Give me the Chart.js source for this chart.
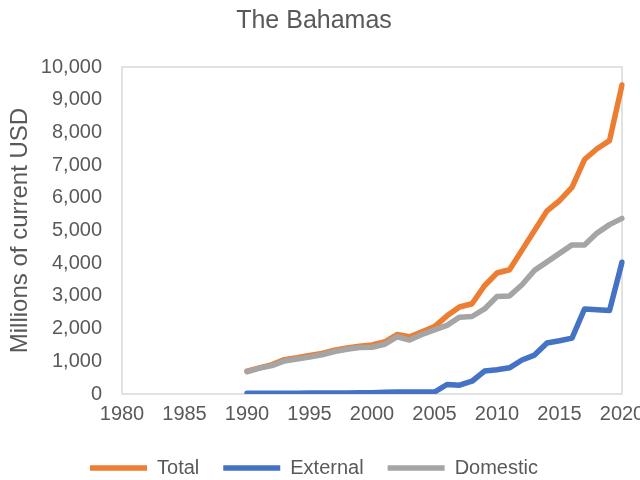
<!DOCTYPE html>
<html>
<head>
<meta charset="utf-8">
<script src="https://cdn.jsdelivr.net/npm/chart.js@4"></script>
<style>
    body { margin: 0; background: #ffffff; }
    #wrap { width: 640px; height: 480px; }
</style>
</head>
<body>
<div id="wrap"><canvas id="lineChart" width="640" height="480"></canvas></div>
<script>

// ======================================
// Data
// ======================================

const years = [];
for (let y = 1980; y <= 2020; y++) years.push(String(y));

const blank = [null, null, null, null, null, null, null, null, null, null];

const totalValues = blank.concat([
    700, 800, 900, 1050, 1110, 1180, 1240, 1340, 1410, 1460,
    1500, 1590, 1820, 1750, 1900, 2060, 2390, 2660, 2760, 3310,
    3700, 3800, 4400, 5000, 5600, 5910, 6320, 7170, 7500, 7750,
    9450
]);

const externalValues = blank.concat([
    20, 20, 20, 25, 25, 30, 30, 30, 30, 35,
    40, 50, 60, 60, 60, 60, 290, 270, 390, 700,
    740, 800, 1040, 1190, 1560, 1630, 1710, 2600, 2580, 2550,
    4030
]);

const domesticValues = blank.concat([
    680, 790, 870, 1010, 1070, 1130, 1200, 1300, 1370, 1420,
    1430, 1520, 1750, 1650, 1820, 1960, 2100, 2350, 2370, 2600,
    2980, 3000, 3340, 3780, 4040, 4300, 4560, 4560, 4920, 5180,
    5370
]);

const TEXT = "#595959";
const FONT = "'Liberation Sans', Arial, sans-serif";

// plot frame on all four sides
const frame = {
    id: "frame",
    beforeDatasetsDraw(chart) {
        const a = chart.chartArea;
        const ctx = chart.ctx;
        ctx.save();
        ctx.strokeStyle = "#d9d9d9";
        ctx.lineWidth = 1.5;
        ctx.strokeRect(a.left, a.top, a.right - a.left, a.bottom - a.top);
        ctx.restore();
    }
};

function series(label, values, color, order) {
    return {
        label: label,
        data: values,
        borderColor: color,
        backgroundColor: color,
        borderWidth: 5.5,
        pointRadius: 0,
        pointStyle: "line",
        borderJoinStyle: "round",
        borderCapStyle: "round",
        order: order
    };
}

const ctx = document.getElementById("lineChart").getContext("2d");

new Chart(ctx, {

    type: "line",

    data: {
        labels: years,
        datasets: [
            series("Total", totalValues, "#ED7D31", 3),
            series("External", externalValues, "#4472C4", 2),
            series("Domestic", domesticValues, "#A5A5A5", 1)
        ]
    },

    options: {

        responsive: false,
        animation: false,

        layout: {
            padding: { left: 6, right: 18, top: 0, bottom: -8 }
        },

        plugins: {
            title: {
                display: true,
                text: "The Bahamas",
                color: TEXT,
                font: { family: FONT, size: 25, weight: "normal" },
                padding: { top: 6, bottom: 31 }
            },
            legend: {
                position: "bottom",
                labels: {
                    color: TEXT,
                    font: { family: FONT, size: 20 },
                    usePointStyle: true,
                    pointStyleWidth: 57,
                    padding: 24,
                    sort: function (a, b) {
                        return a.datasetIndex - b.datasetIndex;
                    }
                }
            },
            tooltip: { enabled: false }
        },

        scales: {
            x: {
                offset: false,
                grid: { display: false, drawTicks: false },
                border: { display: false },
                afterFit: function (scale) {
                    scale.paddingRight = 0;
                },
                ticks: {
                    color: TEXT,
                    font: { family: FONT, size: 20 },
                    autoSkip: false,
                    maxRotation: 0,
                    padding: 8,
                    callback: function (val, i) {
                        const y = Number(years[i]);
                        return y % 5 === 0 ? String(y) : null;
                    }
                }
            },
            y: {
                min: 0,
                max: 10000,
                grid: { display: false, drawTicks: false },
                border: { display: false },
                afterFit: function (scale) {
                    scale.width = 116;
                },
                ticks: {
                    stepSize: 1000,
                    color: TEXT,
                    font: { family: FONT, size: 20 },
                    padding: 20,
                    callback: function (v) {
                        return v.toLocaleString("en-US");
                    }
                },
                title: {
                    display: true,
                    text: "Millions of current USD",
                    color: TEXT,
                    font: { family: FONT, size: 24 },
                    padding: { top: 0, bottom: 6 }
                }
            }
        }
    },

    plugins: [frame]

});

</script>
</body>
</html>
